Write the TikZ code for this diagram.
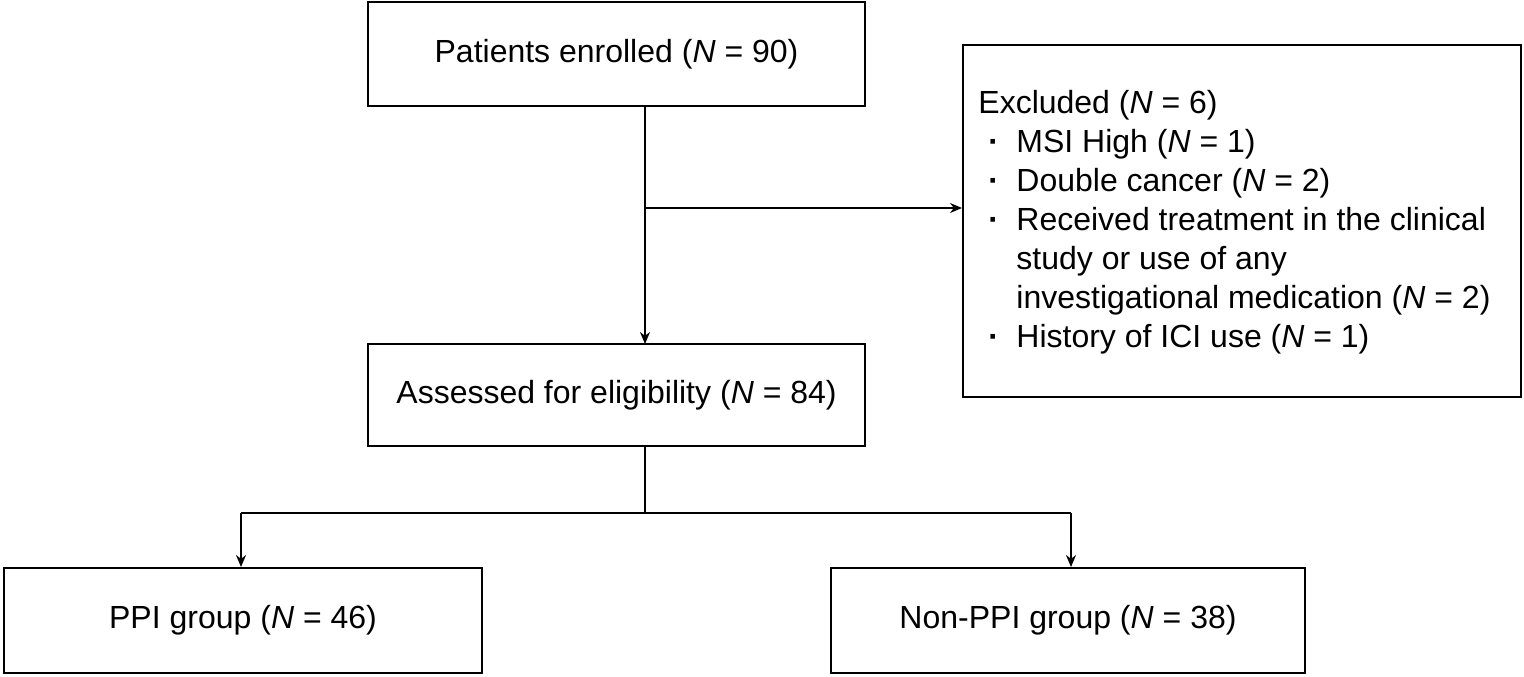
\documentclass[tikz,border=0pt]{standalone}
\usepackage{fontspec}
\setmainfont{Liberation Sans}
\usetikzlibrary{arrows.meta}
\begin{document}
\begin{tikzpicture}[x=0.5pt,y=-0.5pt,
  box/.style={draw,line width=1pt,inner sep=0pt,font=\fontsize{16}{19.5}\selectfont},
  arr/.style={line width=0.8pt,-{Stealth[length=6pt,width=5pt]}},
  ln/.style={line width=0.8pt}]
\useasboundingbox (0,0) rectangle (1524,676);
\node[box,minimum width=248.5pt,minimum height=52pt] (enr) at (616.5,54) {Patients enrolled (\textit{N} = 90)};
\node[box,minimum width=279pt,minimum height=176pt] (exc) at (1242,221) {};
\node[anchor=north west,align=left,inner sep=0pt,font=\fontsize{16}{19.5}\selectfont] (exct) at (978,90) {%
Excluded (\textit{N} = 6)\\
\makebox[19pt][l]{\hspace{5pt}\textbf{·}}MSI High (\textit{N} = 1)\\
\makebox[19pt][l]{\hspace{5pt}\textbf{·}}Double cancer (\textit{N} = 2)\\
\makebox[19pt][l]{\hspace{5pt}\textbf{·}}Received treatment in the clinical\\
\hspace{19pt}study or use of any\\
\hspace{19pt}investigational medication (\textit{N} = 2)\\
\makebox[19pt][l]{\hspace{5pt}\textbf{·}}History of ICI use (\textit{N} = 1)};
\node[box,minimum width=248.5pt,minimum height=51pt] (ass) at (616.5,395) {Assessed for eligibility (\textit{N} = 84)};
\node[box,minimum width=239pt,minimum height=52.5pt] (ppi) at (243,620.5) {PPI group (\textit{N} = 46)};
\node[box,minimum width=237pt,minimum height=52.5pt] (non) at (1068,620.5) {Non-PPI group (\textit{N} = 38)};
\coordinate (a) at (645,106);
\coordinate (b) at (645,344);
\coordinate (m) at (645,208);
\coordinate (c) at (645,446);
\coordinate (d) at (645,513);
\coordinate (l) at (241,513);
\coordinate (r) at (1071,513);
\draw[arr] (a) -- (b);
\draw[arr] (m) -- (m -| exc.west);
\draw[ln] (c) -- (d);
\draw[ln] (l) -- (r);
\draw[arr] (l) -- (l |- ppi.north);
\draw[arr] (r) -- (r |- non.north);
\end{tikzpicture}
\end{document}
